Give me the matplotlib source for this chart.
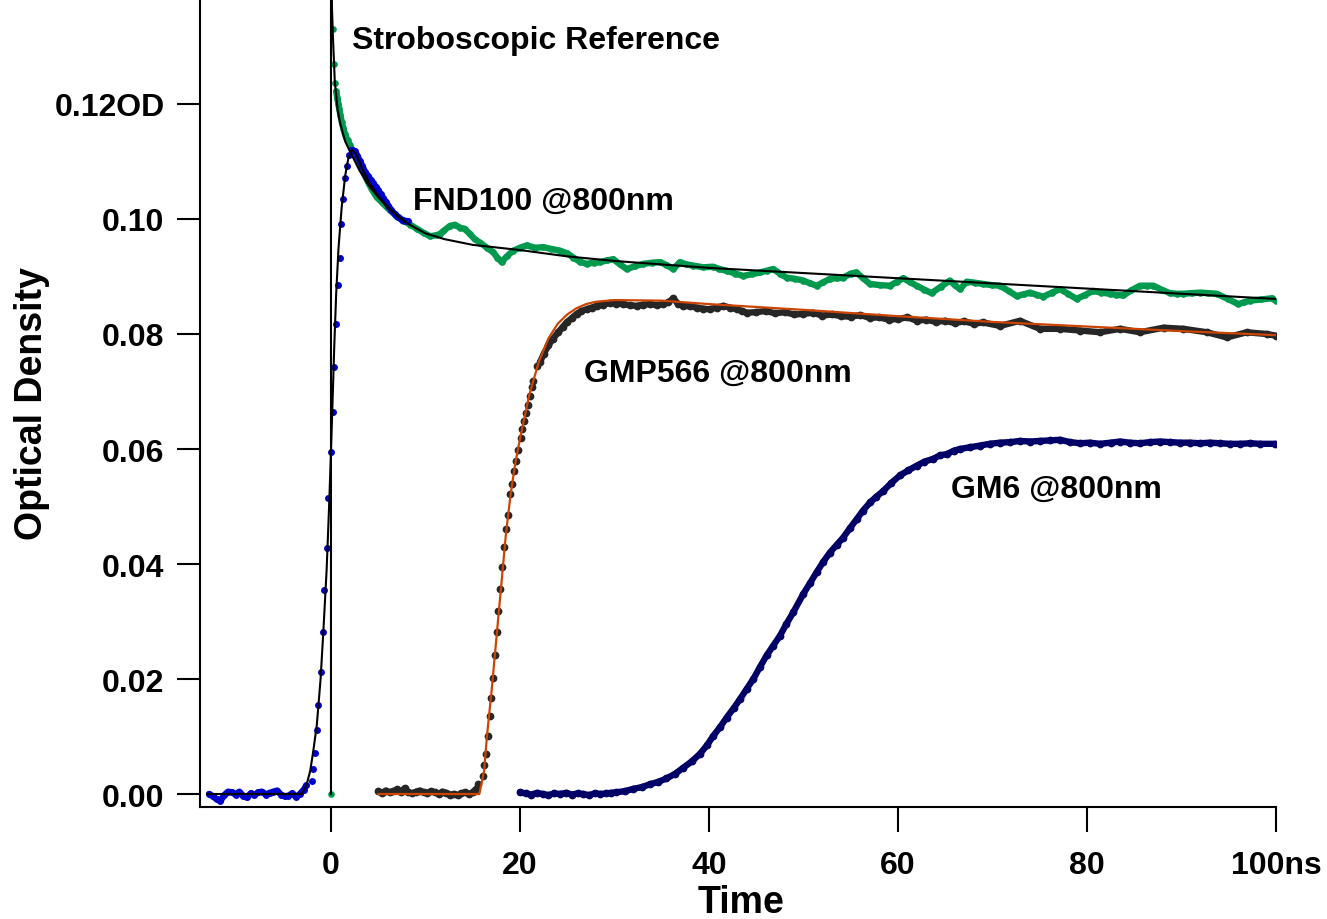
import matplotlib
matplotlib.use("Agg")
import matplotlib.pyplot as plt
import numpy as np

plt.rcParams["font.family"] = ["Liberation Sans", "DejaVu Sans"]
plt.rcParams["font.weight"] = "bold"

# --- data (time in ns, optical density) ---
blue_t = [-12.9, -12.5, -12.1, -11.7, -11.3, -10.9, -10.5, -10.1, -9.7, -9.3, -8.9, -8.5, -8.1,
          -7.7, -7.3, -6.9, -6.5, -6.1, -5.7, -5.3, -4.9, -4.5, -4.1, -3.7, -3.3, -2.9, -2.6,
          -2.04, -1.87, -1.69, -1.51, -1.34, -1.09, -0.88, -0.71, -0.46, -0.35, 0.0, 0.25, 0.35,
          0.53, 0.71, 0.95, 1.09, 1.30, 1.48, 1.66, 1.94, 2.19, 2.54, 2.8, 3.07, 3.3, 3.6, 3.95,
          4.2, 4.48, 4.75, 5.0, 5.25, 5.53, 5.8, 6.07, 6.4, 6.77, 7.1, 7.48, 7.8, 8.18]
blue_od = [0.0, -0.0004, -0.0009, -0.0012, -0.0002, 0.0004, 0.0003, -0.0001, 0.0004, -0.0003,
           -0.0006, 0.0001, -0.0002, 0.0003, 0.0004, -0.0001, 0.0002, 0.0004, 0.0006, -0.0001,
           -0.0004, -0.0003, 0.0001, -0.0005, 0.0, 0.0007, 0.0015,
           0.0023, 0.0043, 0.0072, 0.0111, 0.0155, 0.0212, 0.0281, 0.0355, 0.0428, 0.0515,
           0.0595, 0.0664, 0.0743, 0.0817, 0.0885, 0.0933, 0.0992, 0.1035, 0.1072, 0.1092,
           0.1112, 0.1120, 0.1118, 0.1110, 0.1100, 0.1093, 0.1082, 0.1074, 0.1068, 0.1062,
           0.1056, 0.1050, 0.1043, 0.1036, 0.1030, 0.1023, 0.1015, 0.1008, 0.1003, 0.0999,
           0.0997, 0.0996]

blue_fit_t = [-13.1, -3.1, -2.6, -2.2, -1.87, -1.5, -1.1, -0.8, -0.46, -0.2, 0.0, 0.2, 0.35,
              0.55, 0.8, 1.13, 1.5, 1.83, 2.2, 2.6, 3.2, 4.0, 5.0, 6.0, 7.0, 8.0]
blue_fit_od = [0.0, 0.0, 0.0015, 0.0040, 0.0075, 0.0120, 0.0200, 0.0285, 0.0390, 0.0500, 0.0595,
               0.0700, 0.0780, 0.0870, 0.0950, 0.1020, 0.1075, 0.1105, 0.1120, 0.1115, 0.1092,
               0.1064, 0.1040, 0.1021, 0.1006, 0.0994]

green_t = [0.0, 0.25, 0.35, 0.42, 0.55, 0.67, 0.78, 0.88, 1.0, 1.13, 1.3, 1.48, 1.75, 2.01, 2.35,
           2.72, 3.2, 3.78, 4.3, 4.84, 5.5, 6.24, 6.9, 7.65, 8.4, 9.07, 9.8, 10.48, 11.2, 11.53,
           11.9, 12.59, 13.1, 13.65, 14.13, 14.7, 15.2, 15.77, 16.5, 17.17, 17.6, 18.06, 18.6,
           19.29, 20.0, 20.7, 21.6, 22.47, 23.3, 24.23, 25.0, 25.64, 26.3, 27.06, 27.8, 28.47,
           29.2, 29.87, 30.6, 31.29, 32.2, 33.05, 34.0, 34.81, 35.5, 36.22, 36.93, 37.6, 38.34,
           39.4, 40.45, 41.1, 41.87, 42.8, 43.63, 44.5, 45.4, 46.1, 46.8, 47.5, 48.22, 49.1,
           49.98, 50.7, 51.4, 52.1, 52.8, 53.5, 54.2, 55.0, 55.6, 56.3, 57.04, 58.1, 59.15, 59.9,
           60.56, 61.3, 61.98, 62.8, 63.56, 64.5, 65.5, 66.0, 66.56, 67.27, 68.2, 69.03, 69.9,
           70.8, 71.7, 72.56, 73.3, 73.97, 74.7, 75.38, 76.3, 77.14, 78.0, 78.9, 79.8, 80.67,
           81.5, 82.43, 83.1, 83.84, 84.7, 85.6, 86.3, 87.02, 87.9, 88.78, 89.5, 90.19, 91.1,
           91.96, 92.8, 93.72, 94.9, 96.0, 96.6, 97.25, 98.4, 99.54, 100.0]
green_od = [0.0, 0.1331, 0.1269, 0.1237, 0.1222, 0.1210, 0.1200, 0.1192, 0.1180, 0.1169, 0.1158,
            0.1147, 0.1137, 0.1128, 0.1117, 0.1106, 0.1090, 0.1069, 0.1052, 0.1038, 0.1027,
            0.1015, 0.1006, 0.0997, 0.0990, 0.0983, 0.0976, 0.0970, 0.0972, 0.0974, 0.0979,
            0.0988, 0.0990, 0.0985, 0.0983, 0.0974, 0.0965, 0.0959, 0.0950, 0.0942, 0.0933,
            0.0925, 0.0935, 0.0945, 0.0950, 0.0954, 0.0950, 0.0951, 0.0948, 0.0945, 0.0940,
            0.0933, 0.0926, 0.0922, 0.0924, 0.0925, 0.0928, 0.0930, 0.0921, 0.0913, 0.0918,
            0.0922, 0.0924, 0.0925, 0.0920, 0.0913, 0.0925, 0.0921, 0.0919, 0.0916, 0.0917,
            0.0913, 0.0910, 0.0905, 0.0901, 0.0904, 0.0907, 0.0910, 0.0913, 0.0905, 0.0898,
            0.0896, 0.0893, 0.0888, 0.0884, 0.0890, 0.0896, 0.0897, 0.0898, 0.0905, 0.0907,
            0.0897, 0.0887, 0.0885, 0.0884, 0.0891, 0.0897, 0.0890, 0.0884, 0.0877, 0.0871,
            0.0882, 0.0893, 0.0885, 0.0878, 0.0891, 0.0889, 0.0887, 0.0885, 0.0884, 0.0875,
            0.0866, 0.0869, 0.0872, 0.0868, 0.0865, 0.0872, 0.0878, 0.0870, 0.0861, 0.0868,
            0.0875, 0.0872, 0.0870, 0.0868, 0.0867, 0.0876, 0.0884, 0.0884, 0.0884, 0.0877,
            0.0871, 0.0870, 0.0870, 0.0871, 0.0872, 0.0871, 0.0870, 0.0861, 0.0852, 0.0855,
            0.0858, 0.0860, 0.0862, 0.0858]

green_fit_t = [0.0, 0.0, 0.05, 0.1, 0.2, 0.4, 0.7, 1.0, 1.5, 2.0, 3.0, 4.0, 5.0, 6.0, 7.0, 8.0,
               10.0, 12.0, 15.0, 20.0, 25.0, 30.0, 40.0, 50.0, 60.0, 70.0, 80.0, 90.0, 100.0]
green_fit_od = [0.0, 0.16, 0.145, 0.137, 0.132, 0.124, 0.119, 0.1165, 0.1135, 0.1118, 0.1085,
                0.1058, 0.1038, 0.1020, 0.1005, 0.0993, 0.0975, 0.0965, 0.0955, 0.0946, 0.0935,
                0.0927, 0.0915, 0.0906, 0.0897, 0.0888, 0.0879, 0.0870, 0.0861]

gmp_t = [5.0, 5.4, 5.8, 6.2, 6.6, 7.0, 7.4, 7.8, 8.2, 8.6, 9.0, 9.4, 9.8, 10.2, 10.6, 11.0, 11.4,
         11.8, 12.2, 12.6, 13.0, 13.4, 13.8, 14.2, 14.6, 15.0, 15.3,
         15.59, 16.05, 16.19, 16.4, 16.58, 16.83, 16.93, 17.18, 17.35, 17.53, 17.71, 17.88, 18.13,
         18.31, 18.52, 18.77, 18.94, 19.19, 19.37, 19.58, 19.82, 20.07, 20.25, 20.46, 20.6, 20.81,
         21.06, 21.23, 21.41, 21.76, 22.12, 22.5, 23.0, 23.5, 24.05, 24.5, 24.94, 25.5, 26.0,
         26.5, 27.06, 27.6, 28.12, 28.8, 29.52, 30.2, 30.93, 31.6, 32.35, 33.0, 33.76, 34.5,
         35.16, 35.7, 36.22, 36.7, 37.28, 38.0, 38.7, 39.4, 40.1, 40.8, 41.51, 42.2, 42.93, 43.5,
         43.99, 45.0, 46.0, 47.0, 48.0, 49.0, 50.0, 51.0, 52.0, 53.0, 54.0, 55.0, 56.0, 57.0,
         58.0, 59.0, 60.0, 61.0, 62.0, 63.0, 64.0, 65.0, 66.0, 67.0, 68.0, 69.0, 70.8, 72.9,
         75.0, 77.1, 79.3, 81.4, 83.5, 85.6, 88.1, 90.2, 92.7, 94.8, 96.9, 99.0, 100.0]
gmp_od = [0.0005, 0.0002, 0.0006, 0.0003, 0.0005, 0.0008, 0.0004, 0.0010, 0.0003, 0.0001, 0.0004,
          0.0006, 0.0003, 0.0002, 0.0005, 0.0003, 0.0000, 0.0004, 0.0002, -0.0001, 0.0000,
          -0.0002, 0.0001, 0.0003, 0.0000, 0.0003, 0.0008,
          0.0017, 0.0032, 0.0050, 0.0070, 0.0101, 0.0135, 0.0167, 0.0202, 0.0242, 0.0282,
          0.0319, 0.0357, 0.0395, 0.0430, 0.0461, 0.0486, 0.0521, 0.0540, 0.0562, 0.0579,
          0.0599, 0.0619, 0.0634, 0.0649, 0.0662, 0.0677, 0.0693, 0.0708, 0.0719, 0.0744,
          0.0751, 0.0765, 0.0780, 0.0792, 0.0803, 0.0812, 0.0820, 0.0828, 0.0835, 0.0840,
          0.0843, 0.0846, 0.0849, 0.0851, 0.0854, 0.0853, 0.0852, 0.0850, 0.0849, 0.0851,
          0.0852, 0.0850, 0.0852, 0.0855, 0.0862, 0.0853, 0.0849, 0.0848, 0.0846, 0.0844,
          0.0843, 0.0846, 0.0849, 0.0846, 0.0843, 0.0840, 0.0837, 0.0838, 0.0840, 0.0836,
          0.0838, 0.0834, 0.0835, 0.0837, 0.0832, 0.0834, 0.0831, 0.0830, 0.0833, 0.0828,
          0.0829, 0.0825, 0.0826, 0.0829, 0.0823, 0.0825, 0.0821, 0.0823, 0.0819, 0.0822,
          0.0818, 0.0820, 0.0814, 0.0823, 0.0809, 0.0809, 0.0806, 0.0803, 0.0809, 0.0803,
          0.0811, 0.0809, 0.0803, 0.0794, 0.0803, 0.0800, 0.0797]

gmp_fit_t = [5.0, 15.7, 16.2, 16.5, 17.0, 17.5, 18.0, 18.5, 19.0, 19.5, 20.0, 21.0, 22.0, 23.0,
             24.0, 25.0, 26.0, 27.0, 28.0, 30.0, 35.0, 40.0, 50.0, 60.0, 70.0, 80.0, 90.0, 100.0]
gmp_fit_od = [0.0, 0.0, 0.004, 0.010, 0.018, 0.027, 0.036, 0.045, 0.052, 0.0575, 0.0618, 0.0695,
              0.0752, 0.0792, 0.0818, 0.0834, 0.0845, 0.0852, 0.0856, 0.0859, 0.0858, 0.0852,
              0.0842, 0.0831, 0.0821, 0.0813, 0.0805, 0.0798]

gm6_t = [20.0, 20.6, 21.2, 21.8, 22.4, 23.0, 23.6, 24.2, 24.9, 25.5, 26.1, 26.7, 27.3, 27.9, 28.5,
         29.1, 29.6, 30.2, 31.1, 32.0, 32.9, 33.76, 34.6, 35.5, 36.4, 37.3, 38.2, 39.05, 39.8,
         40.45, 41.2, 41.87, 42.6, 43.28, 44.0, 44.69, 45.4, 46.1, 46.8, 47.5, 48.2, 48.92, 49.98,
         50.7, 51.4, 52.1, 52.8, 53.5, 54.2, 54.9, 55.63, 56.3, 57.04, 57.7, 58.44, 59.3, 60.2,
         61.1, 61.98, 62.8, 63.74, 64.44, 65.15, 65.9, 66.56, 67.6, 68.68, 69.7, 70.8, 71.9, 72.9,
         74.0, 75.0, 76.1, 77.14, 78.2, 79.26, 80.3, 81.4, 82.5, 83.5, 84.5, 85.6, 86.7, 87.7,
         88.8, 89.8, 90.9, 91.96, 93.0, 94.07, 95.1, 96.2, 97.3, 98.3, 99.9]
gm6_od = [0.0003, 0.0001, -0.0001, 0.0002, 0.0000, -0.0002, 0.0001, 0.0000, 0.0002, -0.0001,
          0.0001, 0.0000, -0.0002, 0.0001, 0.0000, 0.0001, 0.0002, 0.0003, 0.0005, 0.0009,
          0.0012, 0.0017, 0.0021, 0.0027, 0.0035, 0.0046, 0.0057, 0.0070, 0.0085, 0.0101,
          0.0117, 0.0133, 0.0149, 0.0165, 0.0183, 0.0200, 0.0221, 0.0241, 0.0258, 0.0275,
          0.0296, 0.0316, 0.0348, 0.0367, 0.0386, 0.0404, 0.0420, 0.0433, 0.0446, 0.0462,
          0.0478, 0.0493, 0.0507, 0.0517, 0.0527, 0.0541, 0.0554, 0.0563, 0.0571, 0.0578,
          0.0583, 0.0589, 0.0591, 0.0597, 0.0600, 0.0603, 0.0606, 0.0609, 0.0611, 0.0612,
          0.0614, 0.0613, 0.0614, 0.0615, 0.0616, 0.0612, 0.0610, 0.0611, 0.0609, 0.0611,
          0.0613, 0.0611, 0.0610, 0.0612, 0.0613, 0.0612, 0.0611, 0.0611, 0.0610, 0.0611,
          0.0610, 0.0609, 0.0609, 0.0610, 0.0609, 0.0609]

x_ticks = [0, 20, 40, 60, 80, 100]
x_tick_labels = ["0", "20", "40", "60", "80", "100ns"]
y_ticks = [0.00, 0.02, 0.04, 0.06, 0.08, 0.10, 0.12]
y_tick_labels = ["0.00", "0.02", "0.04", "0.06", "0.08", "0.10", "0.12OD"]

C_BLUE = "#0000cc"
C_GREEN = "#009a4e"
C_GREY = "#262626"
C_NAVY = "#000066"
C_ORANGE = "#cc4400"


def draw_trace(ax, t, od, color, bands, ms=5.2, lw=4.6):
    t = np.asarray(t)
    od = np.asarray(od)
    # dense stretches of the record look like a thick noisy band
    for lo, hi in bands:
        m = (t >= lo) & (t <= hi)
        ax.plot(t[m], od[m], "-", color=color, lw=lw, solid_capstyle="round",
                solid_joinstyle="round", zorder=2)
    ax.plot(t, od, "o", color=color, ms=ms, mew=0, zorder=2)


fig = plt.figure(figsize=(13.27, 9.2), dpi=100)
ax = fig.add_axes([200 / 1327, 112 / 920, 1076 / 1327, 808 / 920])

draw_trace(ax, green_t, green_od, C_GREEN, [(0.5, 100)], ms=4.8)
draw_trace(ax, blue_t, blue_od, C_BLUE, [(-13, -2.5), (2.0, 8.5)], ms=5.0)
draw_trace(ax, gmp_t, gmp_od, C_GREY, [(4.9, 15.4), (22.0, 100)], ms=5.6)
draw_trace(ax, gm6_t, gm6_od, C_NAVY, [(19, 100)], ms=5.6)

ax.plot(green_fit_t, green_fit_od, color="black", lw=1.5, zorder=3)
ax.plot(blue_fit_t, blue_fit_od, color="black", lw=1.5, zorder=3)
ax.plot(gmp_fit_t, gmp_fit_od, color=C_ORANGE, lw=1.6, zorder=3)

fs = 23
ax.text(2.22, 0.1298, "Stroboscopic Reference", fontsize=fs, fontweight="bold", ha="left", va="baseline")
ax.text(8.68, 0.1017, "FND100 @800nm", fontsize=fs, fontweight="bold", ha="left", va="baseline")
ax.text(26.77, 0.0719, "GMP566 @800nm", fontsize=fs, fontweight="bold", ha="left", va="baseline")
ax.text(65.6, 0.0516, "GM6 @800nm", fontsize=fs, fontweight="bold", ha="left", va="baseline")

ax.set_xlim(-13.86, 100)
ax.set_ylim(-0.00226, 0.13826)
ax.set_xticks(x_ticks)
ax.set_xticklabels(x_tick_labels)
ax.set_yticks(y_ticks)
ax.set_yticklabels(y_tick_labels)
ax.tick_params(axis="x", direction="out", length=18, width=1.5, pad=13, labelsize=fs)
ax.tick_params(axis="y", direction="out", length=16.5, width=1.5, pad=9, labelsize=fs)
for lab in ax.get_xticklabels() + ax.get_yticklabels():
    lab.set_fontweight("bold")

for side in ["top", "right"]:
    ax.spines[side].set_visible(False)
for side in ["left", "bottom"]:
    ax.spines[side].set_linewidth(1.5)

ax.set_xlabel("Time", fontsize=27, fontweight="bold", va="center")
ax.xaxis.set_label_coords(0.503, -0.1176)
ax.set_ylabel("Optical Density", fontsize=27, fontweight="bold", va="center")
ax.yaxis.set_label_coords(-0.156, 0.5)

fig.savefig("out.png", dpi=100)
